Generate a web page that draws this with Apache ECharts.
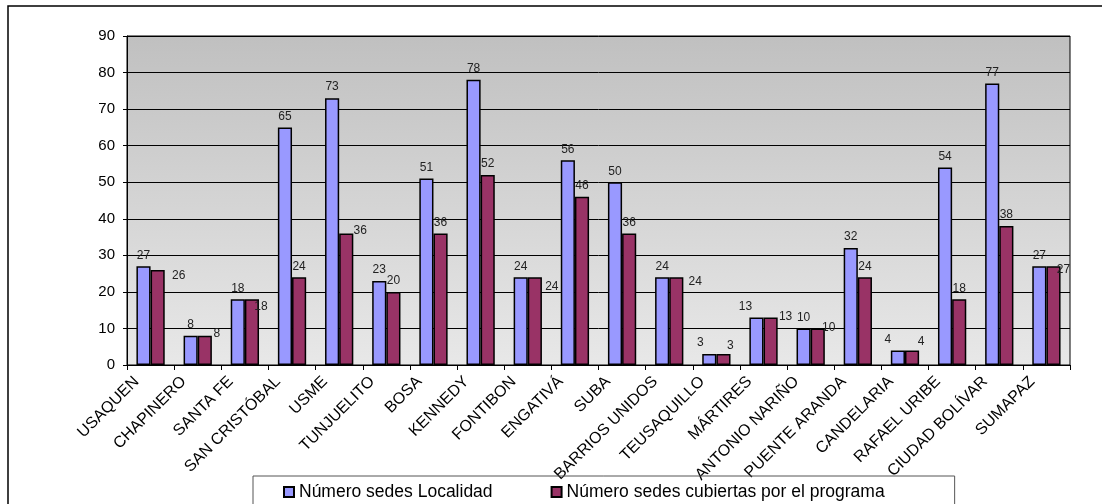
<!DOCTYPE html>
<html>
<head>
<meta charset="utf-8">
<script src="https://cdn.jsdelivr.net/npm/echarts@6/dist/echarts.min.js"></script>
<style>
  html, body { margin: 0; padding: 0; background: #fff; }
  #chart { width: 1102px; height: 504px; }
</style>
</head>
<body>
<div id="chart"></div>
<script>
// datos
var localidades = ['USAQUEN', 'CHAPINERO', 'SANTA FE', 'SAN CRISTÓBAL', 'USME', 'TUNJUELITO', 'BOSA',
    'KENNEDY', 'FONTIBON', 'ENGATIVÁ', 'SUBA', 'BARRIOS UNIDOS', 'TEUSAQUILLO', 'MÁRTIRES',
    'ANTONIO NARIÑO', 'PUENTE ARANDA', 'CANDELARIA', 'RAFAEL URIBE', 'CIUDAD BOLÍVAR', 'SUMAPAZ'];
var sedesLocalidad = [27, 8, 18, 65, 73, 23, 51, 78, 24, 56, 50, 24, 3, 13, 10, 32, 4, 54, 77, 27];
var sedesCubiertas = [26, 8, 18, 24, 36, 20, 36, 52, 24, 46, 36, 24, 3, 13, 10, 24, 4, 18, 38, 27];
var yTicks = [0, 10, 20, 30, 40, 50, 60, 70, 80, 90];

var nombreSerie1 = 'Número sedes Localidad';
var nombreSerie2 = 'Número sedes cubiertas por el programa';

// etiquetas que excel movio de sitio (indice -> [dx, dy])
var moverEtiqueta1 = {12: [-9, 0], 13: [-11, 0], 16: [-10, 0]};
var moverEtiqueta2 = {0: [21, 17], 1: [12, 9], 2: [9, 18], 4: [14, 8], 8: [17, 20], 11: [19, 15],
    12: [7, 3], 13: [15, 10], 14: [11, 10], 16: [9, 2], 19: [10, 14]};

var ff = '"Liberation Sans", Arial, sans-serif';

function armarDatos(valores, mover) {
    var out = [];
    for (var i = 0; i < valores.length; i++) {
        var d = {value: valores[i]};
        if (mover[i]) {
            d.label = {offset: mover[i]};
        }
        out.push(d);
    }
    return out;
}

var myChart = echarts.init(document.getElementById('chart'));

var option = {
    animation: false,
    textStyle: {fontFamily: ff},
    graphic: [{
        type: 'rect',
        shape: {x: 8, y: 6, width: 1200, height: 600},
        style: {fill: null, stroke: '#000', lineWidth: 1.5},
        silent: true
    }],
    grid: {
        left: 127, right: 32, top: 36, bottom: 139,
        show: true,
        borderColor: '#000',
        borderWidth: 1,
        backgroundColor: new echarts.graphic.LinearGradient(0, 0, 0, 1, [
            {offset: 0, color: '#c0c0c0'},
            {offset: 1, color: '#e8e8e8'}
        ])
    },
    legend: {
        left: 253,
        top: 476,
        padding: [7, 70, 20, 30],
        borderColor: '#555',
        borderWidth: 1,
        itemWidth: 10,
        itemHeight: 10,
        itemGap: 58,
        icon: 'rect',
        textStyle: {fontSize: 17.5, color: '#000', fontFamily: ff},
        data: [nombreSerie1, nombreSerie2]
    },
    xAxis: {
        type: 'category',
        data: localidades,
        axisLine: {lineStyle: {color: '#000', width: 1}},
        axisTick: {show: true, length: 5, lineStyle: {color: '#000'}},
        axisLabel: {
            interval: 0,
            rotate: 45,
            margin: 0,
            padding: [0, 20, 0, 0],
            fontSize: 16,
            color: '#000',
            fontFamily: ff
        }
    },
    yAxis: {
        type: 'value',
        min: yTicks[0],
        max: yTicks[yTicks.length - 1],
        interval: 10,
        axisLine: {show: true, lineStyle: {color: '#000', width: 1}},
        axisTick: {show: true, length: 4, lineStyle: {color: '#000'}},
        axisLabel: {margin: 12, fontSize: 15, color: '#000', fontFamily: ff},
        splitLine: {lineStyle: {color: '#000', width: 1}}
    },
    series: [
        {
            name: nombreSerie1,
            type: 'bar',
            barGap: '0%',
            barCategoryGap: '40%',
            itemStyle: {color: '#9999ff', borderColor: '#000', borderWidth: 1.5},
            label: {show: true, position: 'top', distance: 5, fontSize: 12, color: '#222', fontFamily: ff},
            data: armarDatos(sedesLocalidad, moverEtiqueta1)
        },
        {
            name: nombreSerie2,
            type: 'bar',
            itemStyle: {color: '#993366', borderColor: '#000', borderWidth: 1.5},
            label: {show: true, position: 'top', distance: 5, fontSize: 12, color: '#222', fontFamily: ff},
            data: armarDatos(sedesCubiertas, moverEtiqueta2)
        }
    ]
};

myChart.setOption(option);
</script>
</body>
</html>
